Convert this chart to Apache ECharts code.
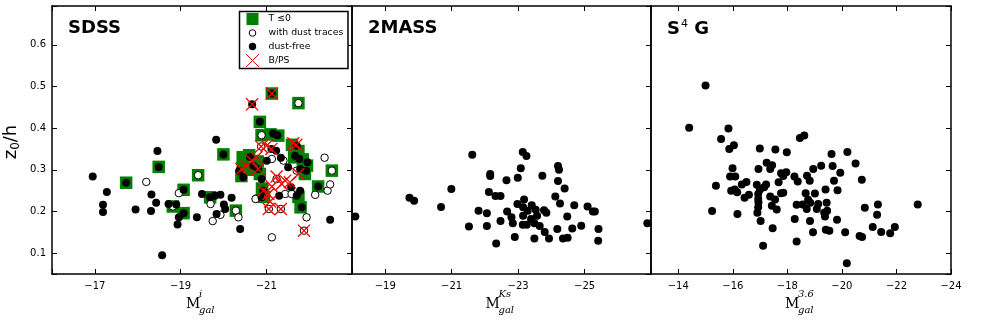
<!DOCTYPE html>
<html>
<head>
<meta charset="utf-8">
<script src="https://cdn.jsdelivr.net/npm/echarts@6/dist/echarts.min.js"></script>
<style>
  html, body { margin: 0; padding: 0; background: #fff; }
  #main { width: 981px; height: 336px; }
</style>
</head>
<body>
<div id="main"></div>
<script>
// SDSS: dust-free galaxies (filled circles)
var sdssFilled = [
  [-16.95, 0.284], [-17.28, 0.247], [-17.19, 0.216], [-17.19, 0.199], [-17.95, 0.205],
  [-18.32, 0.241], [-18.31, 0.201], [-18.43, 0.221], [-18.46, 0.345], [-18.57, 0.095],
  [-18.49, 0.307], [-17.73, 0.269], [-18.72, 0.218], [-18.90, 0.217], [-18.96, 0.186],
  [-18.93, 0.169], [-19.07, 0.252], [-19.07, 0.196], [-19.38, 0.186], [-19.50, 0.242],
  [-19.69, 0.234], [-19.80, 0.238], [-19.93, 0.240], [-20.01, 0.217], [-20.04, 0.206],
  [-20.19, 0.233], [-19.84, 0.194], [-20.39, 0.158], [-19.83, 0.372], [-20.00, 0.337],
  [-21.13, 0.483], [-20.67, 0.457], [-20.85, 0.415], [-21.16, 0.387], [-21.26, 0.383],
  [-21.12, 0.350], [-21.23, 0.346], [-21.71, 0.358], [-21.77, 0.326], [-21.67, 0.334],
  [-21.96, 0.318], [-21.93, 0.298], [-20.62, 0.331], [-20.37, 0.298], [-20.46, 0.282],
  [-20.70, 0.310], [-20.81, 0.302], [-20.89, 0.278], [-21.01, 0.322], [-21.34, 0.329],
  [-21.51, 0.306], [-21.79, 0.302], [-21.58, 0.258], [-20.93, 0.250], [-20.89, 0.234],
  [-21.30, 0.238], [-21.71, 0.238], [-21.79, 0.250], [-21.83, 0.210], [-22.21, 0.260],
  [-22.49, 0.180]
];
// SDSS: galaxies with dust traces (open circles)
var sdssOpen = [
  [-18.20, 0.271], [-18.96, 0.244], [-18.82, 0.212], [-19.41, 0.287], [-19.70, 0.218],
  [-19.75, 0.177], [-19.93, 0.192], [-20.29, 0.202], [-20.35, 0.186], [-20.76, 0.231],
  [-21.13, 0.138], [-20.89, 0.383], [-21.75, 0.460], [-20.88, 0.356], [-21.13, 0.326],
  [-21.40, 0.322], [-21.71, 0.298], [-21.24, 0.278], [-20.75, 0.230], [-21.44, 0.242],
  [-21.59, 0.242], [-21.94, 0.186], [-21.06, 0.206], [-21.34, 0.206], [-22.36, 0.329],
  [-22.43, 0.250], [-22.49, 0.265], [-22.53, 0.298], [-22.14, 0.240], [-21.88, 0.154]
];
// SDSS: early types, T <= 0 (green squares)
var sdssEarly = [
  [-17.73, 0.269], [-18.49, 0.307], [-18.82, 0.212], [-19.07, 0.252], [-19.07, 0.196],
  [-19.41, 0.287], [-19.69, 0.234], [-20.00, 0.337], [-20.29, 0.202], [-21.13, 0.483],
  [-21.75, 0.460], [-20.85, 0.415], [-20.89, 0.383], [-21.10, 0.385], [-21.28, 0.382],
  [-20.45, 0.330], [-20.60, 0.335], [-20.45, 0.305], [-20.42, 0.285], [-20.65, 0.300],
  [-20.80, 0.320], [-20.85, 0.290], [-21.60, 0.360], [-21.75, 0.345], [-21.85, 0.325],
  [-21.95, 0.310], [-21.90, 0.290], [-21.65, 0.330], [-20.90, 0.255], [-20.95, 0.235],
  [-21.75, 0.235], [-21.80, 0.210], [-22.21, 0.260], [-22.53, 0.298]
];
// SDSS: boxy / peanut bulges (red crosses)
var sdssBPS = [
  [-21.13, 0.483], [-20.67, 0.457], [-21.01, 0.358], [-20.88, 0.356], [-21.12, 0.350],
  [-21.63, 0.364], [-21.70, 0.360], [-20.42, 0.302], [-20.54, 0.310], [-20.66, 0.322],
  [-20.77, 0.330], [-20.81, 0.302], [-21.24, 0.284], [-21.44, 0.274], [-21.55, 0.270],
  [-21.75, 0.290], [-21.13, 0.260], [-21.36, 0.266], [-21.05, 0.242], [-20.93, 0.250],
  [-21.09, 0.224], [-21.06, 0.206], [-21.34, 0.206], [-21.88, 0.154]
];
var twomass = [
  [-18.10, 0.188], [-19.73, 0.233], [-19.87, 0.226], [-20.68, 0.211], [-20.99, 0.254],
  [-21.62, 0.336], [-21.52, 0.164], [-21.81, 0.202], [-22.06, 0.196], [-22.06, 0.165],
  [-22.12, 0.247], [-22.16, 0.290], [-22.16, 0.285], [-22.32, 0.237], [-22.47, 0.237],
  [-22.47, 0.177], [-22.34, 0.123], [-22.65, 0.275], [-22.67, 0.200], [-22.80, 0.186],
  [-22.84, 0.172], [-22.90, 0.139], [-22.99, 0.281], [-22.98, 0.218], [-23.08, 0.304],
  [-23.14, 0.343], [-23.25, 0.333], [-23.18, 0.229], [-23.15, 0.210], [-23.15, 0.190],
  [-23.14, 0.168], [-23.26, 0.168], [-23.41, 0.215], [-23.29, 0.202], [-23.53, 0.204],
  [-23.57, 0.190], [-23.39, 0.182], [-23.49, 0.172], [-23.65, 0.165], [-23.49, 0.135],
  [-23.73, 0.286], [-23.78, 0.203], [-23.85, 0.197], [-23.80, 0.151], [-23.93, 0.135],
  [-24.12, 0.236], [-24.20, 0.309], [-24.23, 0.300], [-24.20, 0.273], [-24.26, 0.219],
  [-24.40, 0.255], [-24.18, 0.158], [-24.35, 0.135], [-24.49, 0.137], [-24.48, 0.188],
  [-24.63, 0.159], [-24.69, 0.215], [-24.90, 0.166], [-25.09, 0.212], [-25.25, 0.200],
  [-25.31, 0.200], [-25.42, 0.158], [-25.41, 0.130], [-26.89, 0.172]
];
var s4g = [
  [-15.00, 0.502], [-14.40, 0.401], [-15.84, 0.399], [-15.57, 0.374], [-16.04, 0.359],
  [-15.87, 0.350], [-18.46, 0.376], [-18.62, 0.382], [-16.99, 0.351], [-17.56, 0.349],
  [-17.98, 0.342], [-19.62, 0.338], [-20.20, 0.343], [-17.24, 0.317], [-17.44, 0.311],
  [-17.37, 0.302], [-16.94, 0.302], [-15.99, 0.304], [-19.24, 0.310], [-19.66, 0.309],
  [-20.50, 0.315], [-18.95, 0.302], [-19.94, 0.293], [-17.77, 0.292], [-17.96, 0.294],
  [-17.85, 0.285], [-18.26, 0.284], [-18.38, 0.272], [-18.72, 0.286], [-18.82, 0.274],
  [-19.71, 0.274], [-20.73, 0.276], [-15.90, 0.284], [-16.09, 0.284], [-16.50, 0.271],
  [-16.33, 0.265], [-15.38, 0.262], [-17.22, 0.265], [-16.88, 0.264], [-17.68, 0.270],
  [-15.94, 0.250], [-16.16, 0.246], [-16.07, 0.253], [-16.99, 0.252], [-17.15, 0.258],
  [-16.59, 0.240], [-16.43, 0.233], [-16.93, 0.242], [-17.37, 0.236], [-17.55, 0.229],
  [-17.77, 0.244], [-17.85, 0.245], [-19.40, 0.253], [-19.84, 0.251], [-19.01, 0.243],
  [-18.67, 0.244], [-18.76, 0.228], [-18.84, 0.221], [-16.94, 0.222], [-16.93, 0.210],
  [-17.43, 0.214], [-17.61, 0.205], [-18.34, 0.216], [-18.56, 0.217], [-18.71, 0.206],
  [-19.13, 0.218], [-19.08, 0.206], [-19.44, 0.221], [-19.35, 0.197], [-19.46, 0.202],
  [-19.38, 0.188], [-19.82, 0.180], [-20.84, 0.209], [-21.32, 0.217], [-21.29, 0.192],
  [-22.78, 0.217], [-15.24, 0.201], [-16.17, 0.194], [-16.90, 0.197], [-18.27, 0.182],
  [-17.02, 0.177], [-18.83, 0.177], [-17.46, 0.160], [-21.13, 0.163], [-21.44, 0.151],
  [-21.77, 0.148], [-21.94, 0.163], [-18.94, 0.150], [-19.41, 0.156], [-19.54, 0.154],
  [-20.12, 0.150], [-20.65, 0.141], [-20.74, 0.139], [-18.34, 0.128], [-17.11, 0.118],
  [-20.18, 0.076], [-16.93, 0.230]
];

var xRanges = [[-23, -16], [-27, -18], [-24, -13]];
var xHidden = [[-23, -16], [-27, -18], [-13]];
var yRange = [0.05, 0.693];
var panelTitles = ['{b|SDSS}', '{b|2MASS}', '{b|S}{s|4}{b| G}'];
var xSup = ['i', 'Ks', '3.6'];
var legendLabels = ['T ≤0', 'with dust traces', 'dust-free', 'B/PS'];

var panels = [
  { left: 52, width: 300 },
  { left: 352, width: 299 },
  { left: 651, width: 300 }
];
var gridTop = 6, gridHeight = 268;
var black = '#000';
var green = '#008000';
var red = '#ff0000';
var crossPath = 'path://M0,0.07L0.07,0L0.5,0.43L0.93,0L1,0.07L0.57,0.5L1,0.93L0.93,1L0.5,0.57L0.07,1L0,0.93L0.43,0.5Z';

function fmtX(hidden) {
  return function (v) {
    for (var k = 0; k < hidden.length; k++) {
      if (Math.abs(v - hidden[k]) < 1e-6) return '';
    }
    return (v < 0 ? '\u2212' : '') + Math.abs(v);
  };
}

var grids = [], xAxes = [], yAxes = [];
panels.forEach(function (p, i) {
  grids.push({ left: p.left, top: gridTop, width: p.width, height: gridHeight, outerBoundsMode: 'none' });
  [false, true].forEach(function (isTop) {
    xAxes.push({
      type: 'value', gridIndex: i, position: isTop ? 'top' : 'bottom',
      min: xRanges[i][0], max: xRanges[i][1], interval: 2, inverse: true,
      splitLine: { show: false },
      axisLine: { show: true, onZero: false, lineStyle: { color: black, width: 1.5 } },
      axisTick: { show: true, inside: true, length: 5, lineStyle: { color: black, width: 1 } },
      axisLabel: {
        show: !isTop, margin: 7, color: black, fontSize: 10, fontFamily: 'DejaVu Sans',
        formatter: fmtX(xHidden[i])
      }
    });
  });
  [false, true].forEach(function (isRight) {
    var withTicks = isRight || i === 0;
    yAxes.push({
      type: 'value', gridIndex: i, position: isRight ? 'right' : 'left',
      min: yRange[0], max: yRange[1], splitNumber: 6,
      splitLine: { show: false },
      axisLine: { show: true, onZero: false, lineStyle: { color: black, width: 1.5 } },
      axisTick: { show: withTicks, inside: true, length: 5, lineStyle: { color: black, width: 1 } },
      axisLabel: {
        show: !isRight && i === 0, margin: 6, color: black, fontSize: 10, fontFamily: 'DejaVu Sans',
        formatter: function (v) {
          var r = Math.round(v * 10) / 10;
          return Math.abs(v - r) < 1e-6 ? r.toFixed(1) : '';
        }
      }
    });
  });
});

function scatter(data, gi, sym, size, fill, stroke, z) {
  return {
    type: 'scatter', xAxisIndex: gi * 2, yAxisIndex: gi * 2, data: data,
    symbol: sym, symbolSize: size, z: z, silent: true,
    itemStyle: { color: fill, borderColor: stroke, borderWidth: stroke ? 1 : 0, opacity: 1 }
  };
}

var series = [
  scatter(sdssEarly, 0, 'rect', 12.5, green, null, 2),
  scatter(sdssOpen, 0, 'circle', 7.5, '#fff', black, 3),
  scatter(sdssFilled, 0, 'circle', 8, black, null, 4),
  scatter(sdssBPS, 0, crossPath, 13, red, null, 5),
  scatter(twomass, 1, 'circle', 8, black, null, 3),
  scatter(s4g, 2, 'circle', 8, black, null, 3)
];

var graphics = [];
panels.forEach(function (p, i) {
  graphics.push({
    type: 'text', x: p.left + 16, y: 19, z: 10,
    style: {
      text: panelTitles[i], fill: black,
      rich: {
        b: { fontFamily: 'DejaVu Sans', fontWeight: 'bold', fontSize: 18, fill: black },
        s: { fontFamily: 'DejaVu Sans', fontSize: 11, fill: black, verticalAlign: 'top', padding: [0, 0, 9, 1] }
      }
    }
  });
  var cx = p.left + p.width / 2;
  graphics.push({
    type: 'text', x: cx - 16, y: 297, z: 10,
    style: { text: 'M', font: '14px "DejaVu Serif"', fill: black }
  });
  graphics.push({
    type: 'text', x: cx - 3, y: 289, z: 10,
    style: { text: xSup[i], font: 'italic 10px "DejaVu Serif"', fill: black }
  });
  graphics.push({
    type: 'text', x: cx - 3, y: 305, z: 10,
    style: { text: 'gal', font: 'italic 10px "DejaVu Serif"', fill: black }
  });
});

// y axis name
graphics.push({
  type: 'text', x: 11, y: 142, rotation: Math.PI / 2, z: 10,
  style: {
    text: '{a|z}{s|0}{a|/h}', align: 'center', verticalAlign: 'middle',
    rich: {
      a: { fontFamily: 'DejaVu Sans', fontSize: 18, fill: black },
      s: { fontFamily: 'DejaVu Sans', fontSize: 12, fill: black, padding: [9, 0, 0, 0] }
    }
  }
});

// legend box
var lgX = 239, lgY = 11;
graphics.push({
  type: 'rect', z: 20, shape: { x: lgX + 0.5, y: lgY + 0.5, width: 108.5, height: 57 },
  style: { fill: '#fff', stroke: black, lineWidth: 1.5 }
});
var rowY = [19, 33, 46.5, 60.5];
graphics.push({ type: 'rect', z: 21, shape: { x: 246.5, y: 13, width: 12, height: 12 }, style: { fill: green } });
graphics.push({ type: 'circle', z: 21, shape: { cx: 252.5, cy: rowY[1], r: 3.3 }, style: { fill: '#fff', stroke: black, lineWidth: 1 } });
graphics.push({ type: 'circle', z: 21, shape: { cx: 252.5, cy: rowY[2], r: 3.7 }, style: { fill: black } });
graphics.push({ type: 'line', z: 21, shape: { x1: 246, y1: 54, x2: 259, y2: 67 }, style: { stroke: red, lineWidth: 1 } });
graphics.push({ type: 'line', z: 21, shape: { x1: 259, y1: 54, x2: 246, y2: 67 }, style: { stroke: red, lineWidth: 1 } });
legendLabels.forEach(function (t, k) {
  graphics.push({
    type: 'text', z: 21, x: 268.5, y: rowY[k],
    style: { text: t, font: '9.3px "DejaVu Sans"', fill: black, verticalAlign: 'middle' }
  });
});

var chart = echarts.init(document.getElementById('main'), null, { renderer: 'canvas' });
chart.setOption({
  animation: false,
  backgroundColor: '#fff',
  grid: grids,
  xAxis: xAxes,
  yAxis: yAxes,
  series: series,
  graphic: graphics
});
</script>
</body>
</html>
